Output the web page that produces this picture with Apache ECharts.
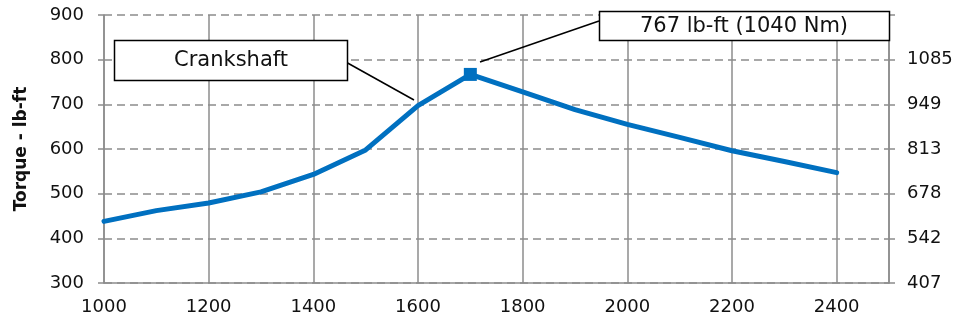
<!DOCTYPE html>
<html>
<head>
<meta charset="utf-8">
<script src="https://cdn.jsdelivr.net/npm/echarts@6/dist/echarts.min.js"></script>
<style>html,body{margin:0;padding:0;background:#fff}#c{width:959px;height:323px}</style>
</head>
<body>
<div id="c"></div>
<script>
// Data
const rpm = [1000, 1100, 1200, 1300, 1400, 1500, 1600, 1700, 1800, 1900, 2000, 2100, 2200, 2300, 2400];
const torque = [438, 462, 479, 504, 543, 598, 697, 767, 728, 688, 655, 626, 596, 572, 547];
const peakPoint = [1700, 767];
const xTickLabels = ['1000', '1200', '1400', '1600', '1800', '2000', '2200', '2400'];
const leftTickLabels = ['300', '400', '500', '600', '700', '800', '900'];
const rightTickLabels = ['407', '542', '678', '813', '949', '1085'];
const yAxisTitle = 'Torque - lb-ft';
const labelCrank = 'Crankshaft';
const labelPeak = '767 lb-ft (1040 Nm)';

const FONT = 'DejaVu Sans';
const GRID = '#8c8c8c';
const BLUE = '#0070C0';
const TXT = '#111';

const chart = echarts.init(document.getElementById('c'), null, {renderer: 'canvas'});
const option = {
  animation: false,
  backgroundColor: '#fff',
  textStyle: {fontFamily: FONT},
  grid: {left: 104, right: 70, top: 15, bottom: 40, containLabel: false},
  xAxis: {
    type: 'value', min: 1000, max: 2500, interval: 200,
    axisLine: {show: true, lineStyle: {color: GRID, width: 1.5}},
    axisTick: {show: false},
    splitLine: {show: true, lineStyle: {color: GRID, width: 1.5, type: 'solid'}},
    axisLabel: {
      color: TXT, fontSize: 18, fontFamily: FONT, margin: 15,
      formatter: v => xTickLabels.includes(String(v)) ? String(v) : ''
    }
  },
  yAxis: [{
    type: 'value', min: 300, max: 900, interval: 100, position: 'left',
    name: yAxisTitle, nameLocation: 'middle', nameRotate: 90, nameGap: 74,
    nameTextStyle: {fontFamily: FONT, fontSize: 17, fontWeight: 'bold', color: TXT},
    axisLine: {show: true, lineStyle: {color: GRID, width: 1.5}},
    axisTick: {show: true, length: 6, lineStyle: {color: GRID, width: 1.5}},
    splitLine: {show: true, lineStyle: {color: GRID, width: 1.5, type: [8, 5]}},
    axisLabel: {
      color: TXT, fontSize: 18, fontFamily: FONT, margin: 20,
      formatter: v => leftTickLabels[Math.round((v - 300) / 100)] || ''
    }
  }, {
    type: 'value', min: 300, max: 900, interval: 100, position: 'right',
    axisLine: {show: true, lineStyle: {color: GRID, width: 1.5}},
    axisTick: {show: true, length: 6, lineStyle: {color: GRID, width: 1.5}},
    splitLine: {show: false},
    axisLabel: {
      color: TXT, fontSize: 18, fontFamily: FONT, margin: 18,
      formatter: v => rightTickLabels[Math.round((v - 300) / 100)] || ''
    }
  }],
  series: [{
    type: 'line',
    data: rpm.map((r, i) => [r, torque[i]]),
    showSymbol: false,
    symbol: 'none',
    lineStyle: {color: BLUE, width: 5, cap: 'round', join: 'round'},
    z: 3
  }, {
    type: 'scatter',
    data: [peakPoint],
    symbol: 'rect',
    symbolSize: 13,
    itemStyle: {color: BLUE, opacity: 1},
    z: 4
  }],
  graphic: [
    {type: 'line', shape: {x1: 344, y1: 61, x2: 414, y2: 100}, style: {stroke: '#000', lineWidth: 1.5}, z: 10},
    {type: 'line', shape: {x1: 599, y1: 21, x2: 480, y2: 62}, style: {stroke: '#000', lineWidth: 1.5}, z: 10},
    {type: 'rect', shape: {x: 114.5, y: 40.5, width: 233, height: 40}, style: {fill: '#fff', stroke: '#000', lineWidth: 1.5}, z: 11},
    {type: 'text', x: 231, y: 61, style: {text: labelCrank, font: '21px "DejaVu Sans"', fill: TXT, align: 'center', verticalAlign: 'middle'}, z: 12},
    {type: 'rect', shape: {x: 599.5, y: 11.5, width: 290, height: 29}, style: {fill: '#fff', stroke: '#000', lineWidth: 1.5}, z: 11},
    {type: 'text', x: 744, y: 27, style: {text: labelPeak, font: '21px "DejaVu Sans"', fill: TXT, align: 'center', verticalAlign: 'middle'}, z: 12}
  ]
};
chart.setOption(option);
</script>
</body>
</html>
